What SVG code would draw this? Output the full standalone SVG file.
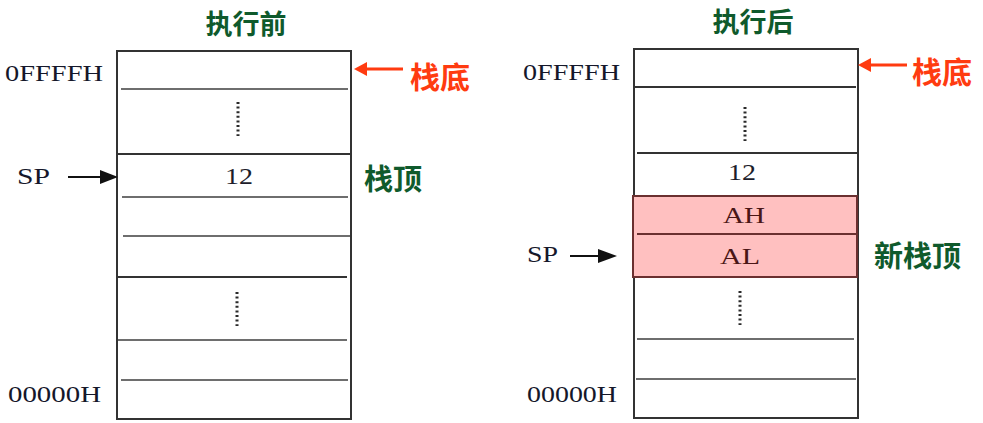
<svg xmlns="http://www.w3.org/2000/svg" width="983" height="423" viewBox="0 0 983 423">
<style>
.frame{fill:#fff;stroke:#333;stroke-width:2}
.div{stroke:#6e6e6e;stroke-width:2.2;fill:none}
.divd{stroke:#333;stroke-width:2;fill:none}
.dots{stroke:#2a2a2a;stroke-width:3;stroke-dasharray:2 2.6;fill:none}
.mono{font-family:"Liberation Serif","DejaVu Serif",serif;font-size:23px;fill:#15172a}
.cell{font-family:"Liberation Serif","DejaVu Serif",serif;font-size:23px;fill:#1d1d2b;text-anchor:middle}
.red-cell{fill:#4a1616}
.ttl{font-family:"Noto Sans CJK SC","Noto Sans",sans-serif;font-weight:bold;font-size:27px;fill:#0f5a2c}
.redt{font-family:"Noto Sans CJK SC","Noto Sans",sans-serif;font-weight:bold;font-size:30px;fill:#ff3b10}
.grn{font-family:"Noto Sans CJK SC","Noto Sans",sans-serif;font-weight:bold;font-size:29px;fill:#0f5a2c}
.blk{stroke:#111;stroke-width:2}
.red{stroke:#ff3b10;stroke-width:3}
</style>

<g id="title-before"><text class="ttl" x="246" y="34" text-anchor="middle">执行前</text></g>
<g id="title-after"><text class="ttl" x="753" y="32" text-anchor="middle">执行后</text></g>

<g id="stack-before">
<rect class="frame" x="117" y="51" width="234" height="368"/>
<line class="div" x1="121" y1="89" x2="348" y2="89"/>
<line class="divd" x1="117" y1="154" x2="351" y2="154"/>
<line class="div" x1="122" y1="197" x2="348" y2="197"/>
<line class="div" x1="123" y1="236" x2="350" y2="236"/>
<line class="divd" x1="117" y1="277" x2="347" y2="277"/>
<line class="div" x1="118" y1="340" x2="347" y2="340"/>
<line class="div" x1="121" y1="380" x2="348" y2="380"/>
<line class="dots" x1="238" y1="102" x2="238" y2="136"/>
<line class="dots" x1="237" y1="292" x2="237" y2="326"/>
<text class="cell" x="239" y="184" textLength="28" lengthAdjust="spacingAndGlyphs">12</text>
</g>

<g id="stack-after">
<rect class="frame" x="634" y="49" width="224" height="369"/>
<line class="divd" x1="634" y1="87" x2="856" y2="87"/>
<line class="divd" x1="637" y1="153" x2="858" y2="153"/>
<line class="div" x1="637" y1="339" x2="854" y2="339"/>
<line class="div" x1="636" y1="379" x2="856" y2="379"/>
<line class="dots" x1="745" y1="107" x2="745" y2="141"/>
<line class="dots" x1="740" y1="291" x2="740" y2="325"/>
<text class="cell" x="742" y="180" textLength="28" lengthAdjust="spacingAndGlyphs">12</text>
</g>

<g id="pushed-cells">
<rect x="633" y="196" width="224" height="81" fill="#ffc0c0" stroke="#6b3030" stroke-width="2"/>
<line x1="637" y1="234" x2="856" y2="234" stroke="#6b3030" stroke-width="2"/>
<text class="cell red-cell" x="744" y="223" textLength="42" lengthAdjust="spacingAndGlyphs">AH</text>
<text class="cell red-cell" x="740" y="264" textLength="40" lengthAdjust="spacingAndGlyphs">AL</text>
</g>

<g id="labels-before">
<text class="mono" x="5" y="81" textLength="98" lengthAdjust="spacingAndGlyphs">0FFFFH</text>
<text class="mono" x="8" y="402" textLength="93" lengthAdjust="spacingAndGlyphs">00000H</text>
<text class="mono" x="17" y="184" textLength="33" lengthAdjust="spacingAndGlyphs">SP</text>
<text class="redt" x="410" y="88">栈底</text>
<text class="grn" x="364" y="190">栈顶</text>
</g>

<g id="labels-after">
<text class="mono" x="523" y="80" textLength="97" lengthAdjust="spacingAndGlyphs">0FFFFH</text>
<text class="mono" x="527" y="402" textLength="90" lengthAdjust="spacingAndGlyphs">00000H</text>
<text class="mono" x="527" y="262" textLength="31" lengthAdjust="spacingAndGlyphs">SP</text>
<text class="redt" x="912" y="83">栈底</text>
<text class="grn" x="874" y="267">新栈顶</text>
</g>

<g id="connectors">
<line class="blk" x1="68" y1="177" x2="102" y2="177"/>
<path d="M100,170 L118,177 L100,184 z" fill="#111"/>
<line class="blk" x1="570" y1="256" x2="600" y2="256"/>
<path d="M598,249 L617,256 L598,263 z" fill="#111"/>
<line class="red" x1="366" y1="69" x2="403" y2="69"/>
<path d="M367,62 L354,69 L367,76 z" fill="#ff3b10"/>
<line class="red" x1="870" y1="65" x2="907" y2="65"/>
<path d="M871,58 L858,65 L871,72 z" fill="#ff3b10"/>
</g>
</svg>
